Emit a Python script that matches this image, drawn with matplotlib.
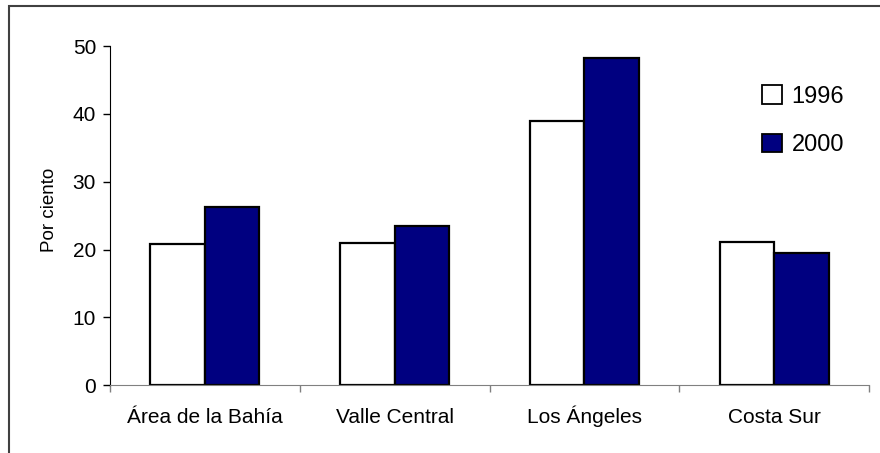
import matplotlib
matplotlib.use("Agg")
import numpy as np
import matplotlib.pyplot as plt
from matplotlib.patches import Rectangle

categorias = ["Área de la Bahía", "Valle Central", "Los Ángeles", "Costa Sur"]
anios = ["1996", "2000"]
valores_1996 = [20.8, 20.9, 38.9, 21.1]
valores_2000 = [26.3, 23.5, 48.2, 19.5]

plt.rcParams["font.family"] = ["Liberation Sans", "DejaVu Sans"]

fig = plt.figure(figsize=(8.8, 4.53), dpi=100)
ax = fig.add_axes([0.125, 0.150, 0.8625, 0.748])

x = np.arange(len(categorias))
w = 0.287
ax.bar(x - w / 2, valores_1996, w, color="white", edgecolor="black", linewidth=1.6, label=anios[0])
ax.bar(x + w / 2, valores_2000, w, color="#000080", edgecolor="black", linewidth=1.6, label=anios[1])

ax.set_xlim(-0.5, len(categorias) - 0.5)
ax.set_ylim(0, 50)
ax.set_yticks([0, 10, 20, 30, 40, 50])
ax.set_xticks(x)
ax.set_xticklabels(categorias, fontsize=15, va="baseline")
ax.set_xticks(np.arange(len(categorias) + 1) - 0.5, minor=True)
ax.tick_params(axis="x", which="major", length=0, pad=27)
ax.tick_params(axis="x", which="minor", length=5, color="#808080", width=1)
ax.tick_params(axis="y", length=5, width=1, labelsize=15, pad=5)
ax.set_ylabel("Por ciento", fontsize=13.5)
ax.yaxis.set_label_coords(-0.068, 0.516)

for s in ["top", "right"]:
    ax.spines[s].set_visible(False)
ax.spines["left"].set_color("black")
ax.spines["bottom"].set_color("#808080")

leg = ax.legend(loc="upper left", bbox_to_anchor=(762 / 880, 1 - 85 / 453),
                bbox_transform=fig.transFigure, frameon=False, fontsize=17,
                handlelength=0.85, handleheight=0.85, handletextpad=0.4,
                labelspacing=1.1, borderpad=0, borderaxespad=0)
for h in leg.legend_handles:
    h.set_linewidth(1.3)

fig.patches.append(Rectangle((9 / 880, -0.2), 1.5, 1.2 - 6 / 453, transform=fig.transFigure,
                             fill=False, edgecolor="#404040", linewidth=1.5, clip_on=False))

plt.savefig("out.png", dpi=100)
